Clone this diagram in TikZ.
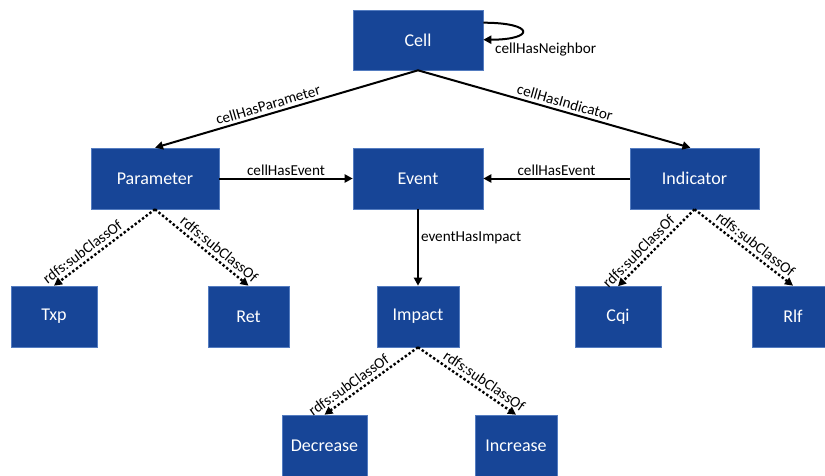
\documentclass[tikz,border=0pt]{standalone}
\usepackage{fontspec}
\setmainfont{Carlito}
\usetikzlibrary{arrows.meta,calc}
\definecolor{boxblue}{RGB}{23,69,151}
\definecolor{boxedge}{RGB}{84,124,192}
\begin{document}
\begin{tikzpicture}[x=1pt,y=-1pt,
  cls/.style={fill=boxblue,draw=boxedge,line width=0.6pt,text=white,
    font=\fontsize{18}{21}\selectfont,inner sep=0pt,minimum height=61pt},
  rel/.style={draw=black,line width=2pt,-{Triangle[length=8pt,width=8pt]}},
  sub/.style={draw=black,line width=2.4pt,dash pattern=on 2.4pt off 2.2pt,
    -{Triangle[length=8pt,width=8pt]}},
  lbl/.style={font=\fontsize{15.2}{17}\selectfont,text=black,inner sep=2pt},
  slbl/.style={lbl,above,sloped,inner sep=3.5pt},
]
\useasboundingbox (0,0) rectangle (825,475);
\clip (0,0) rectangle (825,475);

\node[cls,minimum width=130pt,minimum height=60pt] (cell) at (418,40) {Cell};
\node[cls,minimum width=128pt] (param) at (155,178.5) {Parameter};
\node[cls,minimum width=130pt] (event) at (418,178.5) {Event};
\node[cls,minimum width=129pt] (ind) at (694.5,178.5) {Indicator};
\node[cls,minimum width=86pt] (txp) at (54,316.5) {Txp};
\node[cls,minimum width=81pt] (ret) at (248.5,316.5) {Ret};
\node[cls,minimum width=82pt] (imp) at (418,316.5) {Impact};
\node[cls,minimum width=86pt] (cqi) at (618,317) {Cqi};
\node[cls,minimum width=82pt] (rlf) at (793,316.5) {Rlf};
\node[cls,minimum width=85pt] (dec) at (324.5,445.5) {Decrease};
\node[cls,minimum width=82pt] (inc) at (516,445.5) {Increase};

\draw[rel] (cell.south) -- node[lbl,above,sloped,pos=.56,inner sep=3pt]{cellHasParameter} (param.north);
\draw[rel] (cell.south) -- node[lbl,above,sloped,pos=.53,inner sep=3pt]{cellHasIndicator} ($(ind.north)+(-4,0)$);
\draw[rel] (param.east) -- node[lbl,above]{cellHasEvent} (event.west);
\draw[rel] (ind.west) -- node[lbl,above]{cellHasEvent} (event.east);
\draw[rel] (event.south) -- node[lbl,right,pos=.38]{eventHasImpact} (imp.north);

\draw[rel] ($(cell.north east)+(0,13)$) .. controls +(52,0) and +(52,0) .. ($(cell.north east)+(0,30)$);
\node[lbl,anchor=west] (nb) at (493,50) {cellHasNeighbor};

\draw[sub] (param.south) -- node[slbl,pos=.66]{rdfs:subClassOf} (txp.north);
\draw[sub] (param.south) -- node[slbl,pos=.62]{rdfs:subClassOf} (ret.north);
\draw[sub] (ind.south) -- node[slbl,pos=.64]{rdfs:subClassOf} (cqi.north);
\draw[sub] (ind.south) -- node[slbl,pos=.56]{rdfs:subClassOf} (rlf.north);
\draw[sub] (imp.south) -- node[slbl,pos=.68]{rdfs:subClassOf} (dec.north);
\draw[sub] (imp.south) -- node[slbl,pos=.62]{rdfs:subClassOf} (inc.north);
\end{tikzpicture}
\end{document}
